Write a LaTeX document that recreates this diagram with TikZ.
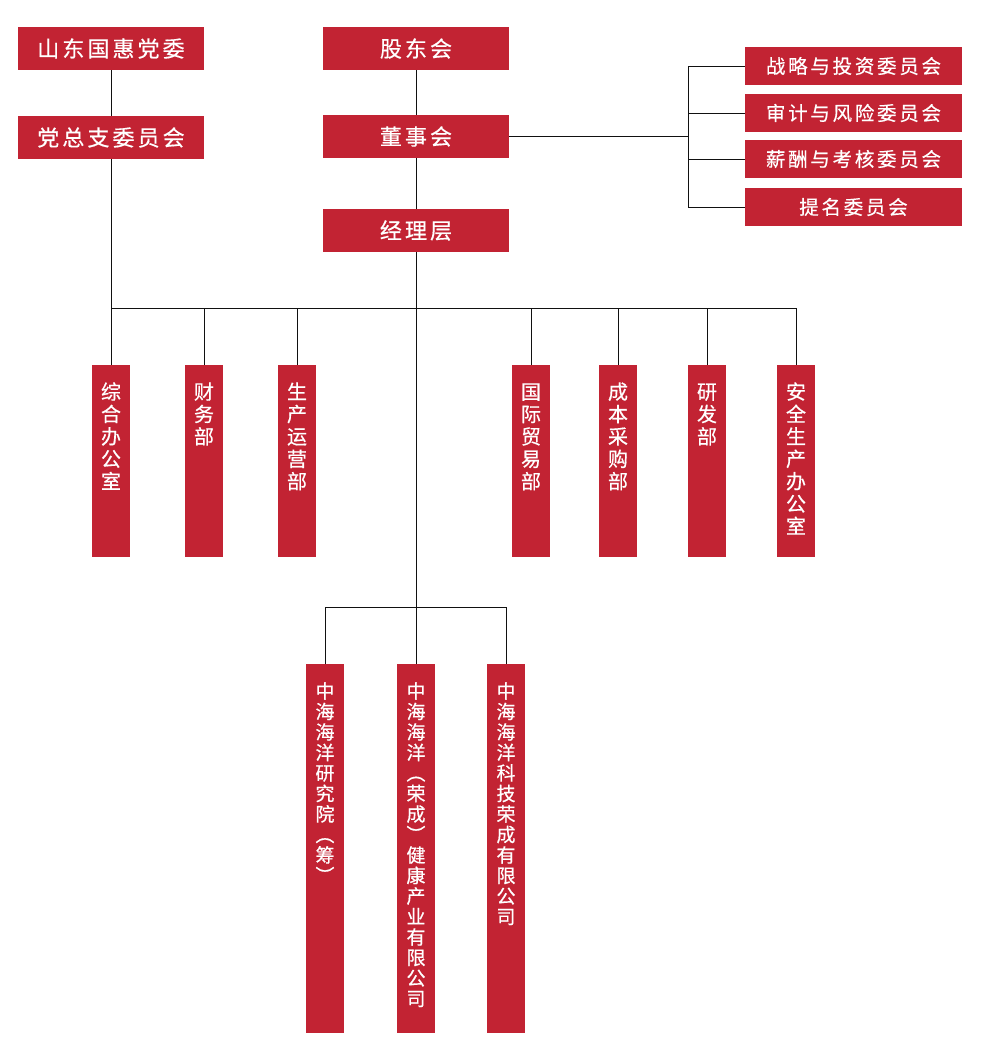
\documentclass[tikz,border=0pt]{standalone}
\usepackage{fontspec}
\usepackage{tikz}
\newfontfamily\cjk[LetterSpace=14,FakeBold=0.5]{Noto Sans CJK SC}
\newfontfamily\cjkcol[FakeBold=0.5]{Noto Sans CJK SC}
\definecolor{orgRed}{HTML}{C22333}
\definecolor{orgLine}{HTML}{111111}
% vertical text, pinned to the top of a column box
\newcommand{\colText}[2]{\parbox[c][#1][t]{38pt}{\centering\rule{0pt}{34pt}#2}}
\tikzset{
  headbox/.style={
    rectangle, fill=orgRed, text=white, inner sep=0pt,
    minimum width=186pt, minimum height=43pt,
    font=\cjk\fontsize{22}{26}\selectfont,
  },
  combox/.style={
    rectangle, fill=orgRed, text=white, inner sep=0pt,
    minimum width=217pt, minimum height=38pt,
    font=\cjk\fontsize{19.5}{23}\selectfont,
  },
  deptbox/.style={
    rectangle, fill=orgRed, text=white, inner sep=0pt, anchor=north,
    minimum width=38pt, font=\cjkcol\fontsize{20}{22.4}\selectfont,
  },
  firmbox/.style={
    deptbox, font=\cjkcol\fontsize{19}{20.5}\selectfont,
  },
  link/.style={draw=orgLine, line width=0.8pt},
}

\begin{document}
\begin{tikzpicture}[x=1pt, y=-1pt]
\useasboundingbox (0,0) rectangle (1000,1058);

% party side
\node[headbox] (party) at (111,48.5) {山东国惠党委};
\node[headbox] (branch) at (111,137.5) {党总支委员会};

% governance
\node[headbox] (holders) at (416,48.5) {股东会};
\node[headbox] (board) at (416,136.5) {董事会};
\node[headbox] (mgmt) at (416,230.5) {经理层};

% board committees
\node[combox] (strat) at (853.5,66) {战略与投资委员会};
\node[combox] (audit) at (853.5,113) {审计与风险委员会};
\node[combox] (pay) at (853.5,159) {薪酬与考核委员会};
\node[combox] (nom) at (853.5,207) {提名委员会};

% departments
\node[deptbox] (office) at (111,365) {\colText{192pt}{综\\合\\办\\公\\室}};
\node[deptbox] (finance) at (204,365) {\colText{192pt}{财\\务\\部}};
\node[deptbox] (ops) at (297,365) {\colText{192pt}{生\\产\\运\\营\\部}};
\node[deptbox] (trade) at (531,365) {\colText{192pt}{国\\际\\贸\\易\\部}};
\node[deptbox] (purchase) at (618,365) {\colText{192pt}{成\\本\\采\\购\\部}};
\node[deptbox] (rnd) at (707,365) {\colText{192pt}{研\\发\\部}};
\node[deptbox] (safety) at (796,365) {\colText{192pt}{安\\全\\生\\产\\办\\公\\室}};

% subsidiaries
\node[firmbox] (inst) at (325,664) {\colText{369pt}{中\\海\\海\\洋\\研\\究\\院\\︵\\筹\\︶}};
\node[firmbox] (health) at (416,664) {\colText{369pt}{中\\海\\海\\洋\\︵\\荣\\成\\︶\\健\\康\\产\\业\\有\\限\\公\\司}};
\node[firmbox] (tech) at (506,664) {\colText{369pt}{中\\海\\海\\洋\\科\\技\\荣\\成\\有\\限\\公\\司}};

\coordinate (bus) at (416,308);
\coordinate (subbus) at (416,607);
\coordinate (bracket) at (688,136.5);

\draw[link] (party) -- (branch);
\draw[link] (holders) -- (board);
\draw[link] (board) -- (mgmt);
\draw[link] (branch) |- (bus);
\draw[link] (mgmt) -- (subbus);

\draw[link] (board.east) -- (bracket);
\foreach \c in {strat, audit, pay, nom}
  \draw[link] (bracket) |- (\c.west);

\foreach \d in {office, finance, ops, trade, purchase, rnd, safety}
  \draw[link] (bus) -| (\d.north);

\foreach \f in {inst, health, tech}
  \draw[link] (subbus) -| (\f.north);

\end{tikzpicture}
\end{document}
